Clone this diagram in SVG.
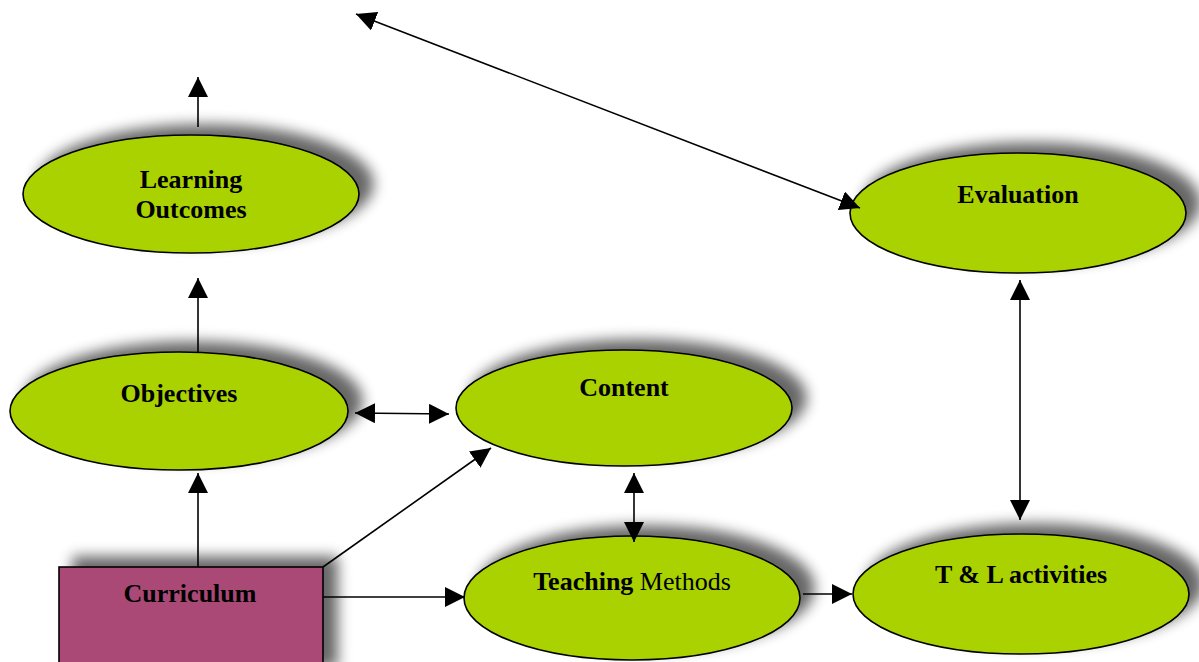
<svg xmlns="http://www.w3.org/2000/svg" width="1199" height="662" viewBox="0 0 1199 662">
<style>
.n{fill:#A9D200;stroke:#000;stroke-width:1.6}
.r{fill:#AB4A76;stroke:#000;stroke-width:1.6}
.t{font-family:"Liberation Serif","Times New Roman",serif;font-size:26px;font-weight:bold;fill:#000;text-anchor:middle}
.c line{stroke:#000;stroke-width:1.6;fill:none}
</style>
<defs>
<filter id="sh" x="-20%" y="-50%" width="160%" height="190%">
<feGaussianBlur in="SourceAlpha" stdDeviation="7"/>
<feOffset dx="14" dy="-10" result="o"/>
<feComponentTransfer><feFuncA type="linear" slope="0.6"/></feComponentTransfer>
<feMerge><feMergeNode/><feMergeNode in="SourceGraphic"/></feMerge>
</filter>
<marker id="ah" viewBox="0 0 20 20" refX="20" refY="10" markerWidth="20" markerHeight="20" markerUnits="userSpaceOnUse" orient="auto-start-reverse">
<path d="M0,0 L20,10 L0,20 z" fill="#000"/>
</marker>
</defs>
<rect width="1199" height="662" fill="#fff"/>
<g id="learning-outcomes">
<ellipse class="n" cx="191" cy="194" rx="168" ry="59" filter="url(#sh)"/>
<text class="t" x="191" y="188">Learning</text>
<text class="t" x="191" y="218">Outcomes</text>
</g>
<g id="objectives">
<ellipse class="n" cx="179" cy="411" rx="169" ry="59" filter="url(#sh)"/>
<text class="t" x="179" y="402">Objectives</text>
</g>
<g id="content">
<ellipse class="n" cx="624" cy="408" rx="168" ry="58" filter="url(#sh)"/>
<text class="t" x="624" y="396">Content</text>
</g>
<g id="evaluation">
<ellipse class="n" cx="1018" cy="213" rx="168" ry="60" filter="url(#sh)"/>
<text class="t" x="1018" y="203">Evaluation</text>
</g>
<g id="teaching-methods">
<ellipse class="n" cx="632" cy="598" rx="168" ry="62" filter="url(#sh)"/>
<text class="t" x="632" y="590">Teaching<tspan font-weight="normal"> Methods</tspan></text>
</g>
<g id="tl-activities">
<ellipse class="n" cx="1021" cy="594" rx="168" ry="60" filter="url(#sh)"/>
<text class="t" x="1021" y="583">T &amp; L activities</text>
</g>
<g id="curriculum">
<rect class="r" x="59" y="567" width="264" height="110" filter="url(#sh)"/>
<text class="t" x="190" y="602">Curriculum</text>
</g>
<g id="connectors" class="c">
<line x1="198" y1="127" x2="198" y2="77" marker-end="url(#ah)"/>
<line x1="198" y1="352" x2="198" y2="278" marker-end="url(#ah)"/>
<line x1="198" y1="567" x2="198" y2="473" marker-end="url(#ah)"/>
<line x1="355" y1="413" x2="449" y2="414" marker-start="url(#ah)" marker-end="url(#ah)"/>
<line x1="323" y1="567" x2="491" y2="448" marker-end="url(#ah)"/>
<line x1="323" y1="597" x2="465" y2="597" marker-end="url(#ah)"/>
<line x1="634" y1="473" x2="634" y2="542" marker-start="url(#ah)" marker-end="url(#ah)"/>
<line x1="803" y1="594" x2="852" y2="594" marker-end="url(#ah)"/>
<line x1="1020" y1="280" x2="1020" y2="520" marker-start="url(#ah)" marker-end="url(#ah)"/>
<line x1="356" y1="14" x2="860" y2="208" marker-start="url(#ah)" marker-end="url(#ah)"/>
</g>
</svg>
